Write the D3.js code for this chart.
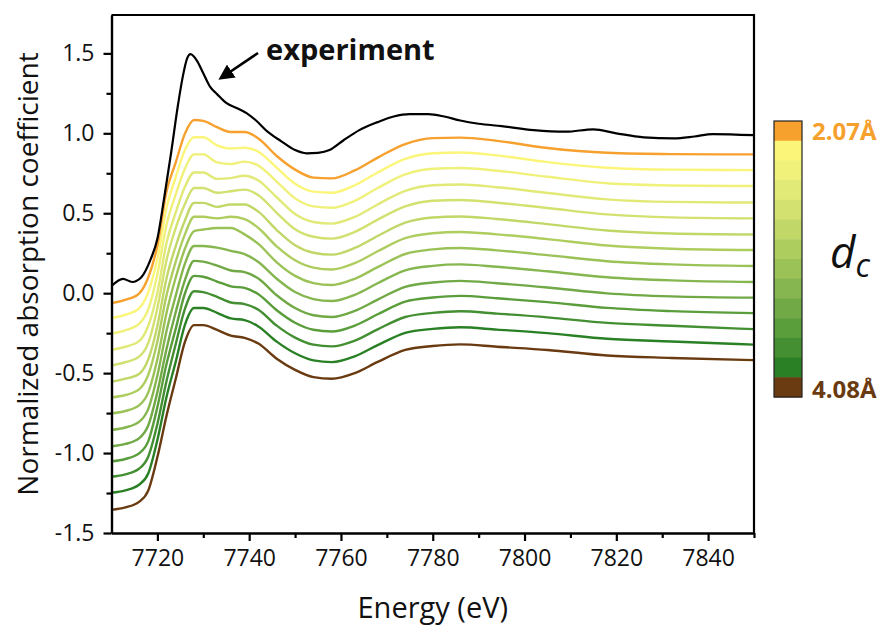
<!DOCTYPE html>
<html>
<head>
<meta charset="utf-8">
<script src="https://cdn.jsdelivr.net/npm/d3@7"></script>
<style>
  body { margin: 0; background: #fff; }
  text { font-family: "Open Sans", sans-serif; fill: #111; }
</style>
</head>
<body>
<div id="chart"></div>
<script>
/**
 * DATA
 * */
// shared energy grid for the simulated spectra (eV)
const energy = [7710, 7713, 7716, 7718, 7720, 7722, 7724, 7726, 7728, 7730, 7733, 7736, 7739, 7742,
  7746, 7750, 7754, 7758, 7763, 7768, 7774, 7780, 7786, 7794, 7805, 7818, 7832, 7850];

// experimental spectrum has its own sampling
const expEnergy = [7710, 7712.5, 7714.5, 7716.5, 7718.5, 7720, 7721.5, 7723, 7724.5, 7725.5, 7726.5, 7727.2,
  7728.6, 7730, 7731.5, 7733, 7735, 7737.5, 7739.5, 7741.5, 7744, 7747, 7750, 7752.5, 7755, 7757.5, 7760.5,
  7764, 7768, 7771.5, 7775, 7779, 7782.5, 7786, 7790, 7795, 7802, 7809, 7815, 7820, 7826, 7832.5, 7837, 7841, 7850];
const expValues = [0.045, 0.09, 0.07, 0.1, 0.21, 0.34, 0.6, 0.88, 1.18, 1.35, 1.47, 1.495,
  1.455, 1.375, 1.29, 1.245, 1.19, 1.155, 1.125, 1.08, 1.01, 0.95, 0.895, 0.875, 0.878, 0.895, 0.955,
  1.02, 1.07, 1.105, 1.12, 1.12, 1.105, 1.08, 1.06, 1.045, 1.02, 1.01, 1.025, 1.0, 0.975, 0.968, 0.98, 0.995, 0.988];

// simulated spectra, d_c from 2.07 Å (top) to 4.08 Å (bottom), offset in the figure
const sim01 = [-0.062, -0.042, -0.002, 0.098, 0.298, 0.638, 0.818, 0.998, 1.083, 1.078, 1.038, 1.008, 1.008, 0.968,
  0.858, 0.773, 0.723, 0.718, 0.768, 0.848, 0.933, 0.970, 0.973, 0.953, 0.908, 0.878, 0.870, 0.868];
const sim02 = [-0.155, -0.135, -0.095, 0.005, 0.215, 0.535, 0.725, 0.895, 0.975, 0.975, 0.925, 0.905, 0.910, 0.885,
  0.785, 0.685, 0.635, 0.628, 0.675, 0.755, 0.840, 0.875, 0.880, 0.862, 0.820, 0.785, 0.773, 0.770];
const sim03 = [-0.252, -0.232, -0.192, -0.102, 0.118, 0.428, 0.618, 0.778, 0.868, 0.868, 0.818, 0.808, 0.823, 0.798,
  0.698, 0.593, 0.543, 0.534, 0.578, 0.658, 0.743, 0.778, 0.783, 0.766, 0.728, 0.688, 0.674, 0.670];
const sim04 = [-0.355, -0.335, -0.300, -0.205, 0.005, 0.315, 0.505, 0.665, 0.755, 0.755, 0.715, 0.720, 0.735, 0.705,
  0.600, 0.495, 0.445, 0.435, 0.477, 0.555, 0.640, 0.675, 0.680, 0.663, 0.627, 0.587, 0.571, 0.567];
const sim05 = [-0.452, -0.432, -0.397, -0.312, -0.092, 0.208, 0.408, 0.558, 0.658, 0.658, 0.628, 0.638, 0.648, 0.613,
  0.503, 0.400, 0.353, 0.341, 0.383, 0.460, 0.543, 0.578, 0.583, 0.566, 0.533, 0.493, 0.474, 0.468];
const sim06 = [-0.555, -0.535, -0.505, -0.415, -0.205, 0.095, 0.295, 0.455, 0.565, 0.565, 0.540, 0.555, 0.555, 0.510,
  0.395, 0.300, 0.253, 0.241, 0.283, 0.358, 0.441, 0.473, 0.480, 0.464, 0.432, 0.392, 0.373, 0.367];
const sim07 = [-0.652, -0.637, -0.602, -0.512, -0.302, -0.012, 0.198, 0.368, 0.478, 0.478, 0.468, 0.478, 0.463, 0.408,
  0.293, 0.206, 0.160, 0.148, 0.188, 0.262, 0.344, 0.375, 0.383, 0.368, 0.338, 0.298, 0.278, 0.270];
const sim08 = [-0.752, -0.737, -0.702, -0.622, -0.412, -0.122, 0.098, 0.278, 0.388, 0.398, 0.408, 0.408, 0.368, 0.308,
  0.193, 0.108, 0.063, 0.051, 0.090, 0.163, 0.245, 0.274, 0.283, 0.268, 0.238, 0.200, 0.180, 0.170];
const sim09 = [-0.855, -0.840, -0.805, -0.725, -0.515, -0.235, -0.015, 0.185, 0.295, 0.295, 0.285, 0.265, 0.245, 0.195,
  0.090, 0.007, -0.037, -0.049, -0.010, 0.062, 0.143, 0.171, 0.180, 0.165, 0.137, 0.100, 0.080, 0.070];
const sim10 = [-0.958, -0.943, -0.908, -0.828, -0.618, -0.348, -0.118, 0.082, 0.202, 0.197, 0.172, 0.142, 0.132, 0.092,
  -0.013, -0.093, -0.138, -0.149, -0.111, -0.040, 0.040, 0.067, 0.077, 0.062, 0.036, -0.001, -0.020, -0.028];
const sim11 = [-1.052, -1.037, -1.002, -0.927, -0.712, -0.442, -0.222, -0.002, 0.108, 0.103, 0.073, 0.043, 0.033, -0.007,
  -0.107, -0.185, -0.229, -0.240, -0.203, -0.132, -0.053, -0.027, -0.017, -0.032, -0.056, -0.092, -0.112, -0.125];
const sim12 = [-1.148, -1.133, -1.098, -1.023, -0.818, -0.548, -0.318, -0.098, 0.012, 0.007, -0.023, -0.058, -0.068, -0.103,
  -0.203, -0.278, -0.322, -0.333, -0.297, -0.226, -0.149, -0.123, -0.113, -0.128, -0.151, -0.186, -0.204, -0.225];
const sim13 = [-1.248, -1.233, -1.198, -1.128, -0.918, -0.648, -0.428, -0.198, -0.093, -0.093, -0.123, -0.158, -0.168, -0.208,
  -0.303, -0.376, -0.420, -0.431, -0.395, -0.325, -0.248, -0.223, -0.213, -0.228, -0.250, -0.285, -0.302, -0.322];
const sim14 = [-1.355, -1.340, -1.305, -1.235, -1.025, -0.765, -0.535, -0.305, -0.200, -0.200, -0.230, -0.265, -0.280, -0.315,
  -0.410, -0.480, -0.525, -0.535, -0.500, -0.430, -0.355, -0.330, -0.320, -0.335, -0.355, -0.390, -0.405, -0.419];

const simColors = ["#f6a02d", "#fbf67a", "#f0f17a", "#e1e977", "#d2e170", "#c1d868", "#aecd5f", "#9bc257",
  "#86b64f", "#70a945", "#5a9d3b", "#438f31", "#2a8024", "#6a3a10"];

const xTicks = [7720, 7740, 7760, 7780, 7800, 7820, 7840];
const xMinorTicks = [7730, 7750, 7770, 7790, 7810, 7830, 7850];
const yTicks = [-1.5, -1.0, -0.5, 0.0, 0.5, 1.0, 1.5];
const yMinorTicks = [-1.25, -0.75, -0.25, 0.25, 0.75, 1.25];
const dcLabels = ["2.07Å", "4.08Å"];

/**
 * CONSTANTS
 * */
const width = 888,
  height = 634,
  margin = { top: 15, right: 134, bottom: 101, left: 111.5 };

const simulated = [sim01, sim02, sim03, sim04, sim05, sim06, sim07, sim08, sim09, sim10, sim11, sim12, sim13, sim14];

const svg = d3.select("#chart")
  .append("svg")
  .attr("width", width)
  .attr("height", height);

// SCALES
const xScale = d3.scaleLinear()
  .domain([7710, 7850])
  .range([margin.left, width - margin.right]);

const yScale = d3.scaleLinear()
  .domain([-1.5, 1.74])
  .range([height - margin.bottom, margin.top]);

svg.append("clipPath")
  .attr("id", "plot-clip")
  .append("rect")
  .attr("x", margin.left)
  .attr("y", margin.top)
  .attr("width", xScale.range()[1] - margin.left)
  .attr("height", yScale.range()[0] - margin.top);

const line = d3.line()
  .x(d => xScale(d[0]))
  .y(d => yScale(d[1]))
  .curve(d3.curveMonotoneX);

const plot = svg.append("g").attr("clip-path", "url(#plot-clip)");

// simulated curves, bottom one drawn first
plot.selectAll(".sim")
  .data(simulated.map((vals, i) => ({ vals, color: simColors[i] })).reverse())
  .join("path")
  .attr("class", "sim")
  .attr("fill", "none")
  .attr("stroke", d => d.color)
  .attr("stroke-width", 2.4)
  .attr("d", d => line(d.vals.map((v, j) => [energy[j], v])));

// experiment
plot.append("path")
  .attr("fill", "none")
  .attr("stroke", "#000")
  .attr("stroke-width", 2.2)
  .attr("d", line(expValues.map((v, j) => [expEnergy[j], v])));

// AXES
const bottomY = yScale.range()[0];
const rightX = xScale.range()[1];

svg.append("g")
  .attr("class", "axis")
  .attr("transform", `translate(0,${bottomY})`)
  .call(d3.axisBottom(xScale).tickValues(xTicks).tickSize(8).tickSizeOuter(0).tickPadding(9)
    .tickFormat(d3.format("d")));

svg.append("g")
  .attr("class", "axis minor")
  .attr("transform", `translate(0,${bottomY})`)
  .call(d3.axisBottom(xScale).tickValues(xMinorTicks).tickSize(5).tickSizeOuter(0).tickFormat(""));

svg.append("g")
  .attr("class", "axis")
  .attr("transform", `translate(${margin.left},0)`)
  .call(d3.axisLeft(yScale).tickValues(yTicks).tickSize(8).tickSizeOuter(0).tickPadding(9)
    .tickFormat(d => d.toFixed(1)));

svg.append("g")
  .attr("class", "axis minor")
  .attr("transform", `translate(${margin.left},0)`)
  .call(d3.axisLeft(yScale).tickValues(yMinorTicks).tickSize(5).tickSizeOuter(0).tickFormat(""));

svg.selectAll(".axis path, .axis line")
  .attr("stroke", "#000")
  .attr("stroke-width", 2.2);

svg.selectAll(".axis text")
  .style("font-size", "23px")
  .attr("fill", "#111");

// top and right frame
svg.append("path")
  .attr("fill", "none")
  .attr("stroke", "#000")
  .attr("stroke-width", 2.2)
  .attr("d", `M${margin.left},${margin.top}H${rightX}V${bottomY}`);

// axis titles
svg.append("text")
  .attr("x", (margin.left + rightX) / 2)
  .attr("y", 618)
  .attr("text-anchor", "middle")
  .style("font-size", "29px")
  .text("Energy (eV)");

svg.append("text")
  .attr("transform", `translate(38,${(margin.top + bottomY) / 2}) rotate(-90)`)
  .attr("text-anchor", "middle")
  .style("font-size", "28px")
  .text("Normalized absorption coefficient");

// experiment label + arrow
svg.append("defs").append("marker")
  .attr("id", "arrow")
  .attr("viewBox", "0 0 10 10")
  .attr("refX", 8)
  .attr("refY", 5)
  .attr("markerWidth", 6)
  .attr("markerHeight", 6)
  .attr("orient", "auto")
  .append("path")
  .attr("d", "M0,0L10,5L0,10z")
  .attr("fill", "#000");

svg.append("line")
  .attr("x1", 258)
  .attr("y1", 53)
  .attr("x2", 221)
  .attr("y2", 78)
  .attr("stroke", "#000")
  .attr("stroke-width", 2.6)
  .attr("marker-end", "url(#arrow)");

svg.append("text")
  .attr("x", 266)
  .attr("y", 60)
  .style("font-size", "29px")
  .style("font-weight", "bold")
  .text("experiment");

// COLOR BAR LEGEND
const barX = 774, barW = 28, barTop = 121, barBottom = 397;
const barScale = d3.scaleBand()
  .domain(d3.range(simColors.length))
  .range([barTop, barBottom])
  .paddingInner(0);

const legend = svg.append("g");
legend.selectAll("rect.seg")
  .data(simColors)
  .join("rect")
  .attr("class", "seg")
  .attr("x", barX)
  .attr("y", (d, i) => barScale(i))
  .attr("width", barW)
  .attr("height", barScale.bandwidth() + 0.5)
  .attr("fill", d => d);

legend.append("rect")
  .attr("x", barX)
  .attr("y", barTop)
  .attr("width", barW)
  .attr("height", barBottom - barTop)
  .attr("fill", "none")
  .attr("stroke", "#222")
  .attr("stroke-width", 1.2);

legend.append("text")
  .attr("x", 812)
  .attr("y", 140)
  .style("font-size", "24px")
  .style("font-weight", "bold")
  .style("fill", simColors[0])
  .text(dcLabels[0]);

legend.append("text")
  .attr("x", 812)
  .attr("y", 398)
  .style("font-size", "24px")
  .style("font-weight", "bold")
  .style("fill", simColors[simColors.length - 1])
  .text(dcLabels[1]);

const dc = legend.append("text")
  .attr("x", 830)
  .attr("y", 268)
  .style("font-size", "44px")
  .style("font-style", "italic");
dc.append("tspan").text("d");
dc.append("tspan")
  .attr("dy", 9)
  .style("font-size", "32px")
  .text("c");
</script>
</body>
</html>
